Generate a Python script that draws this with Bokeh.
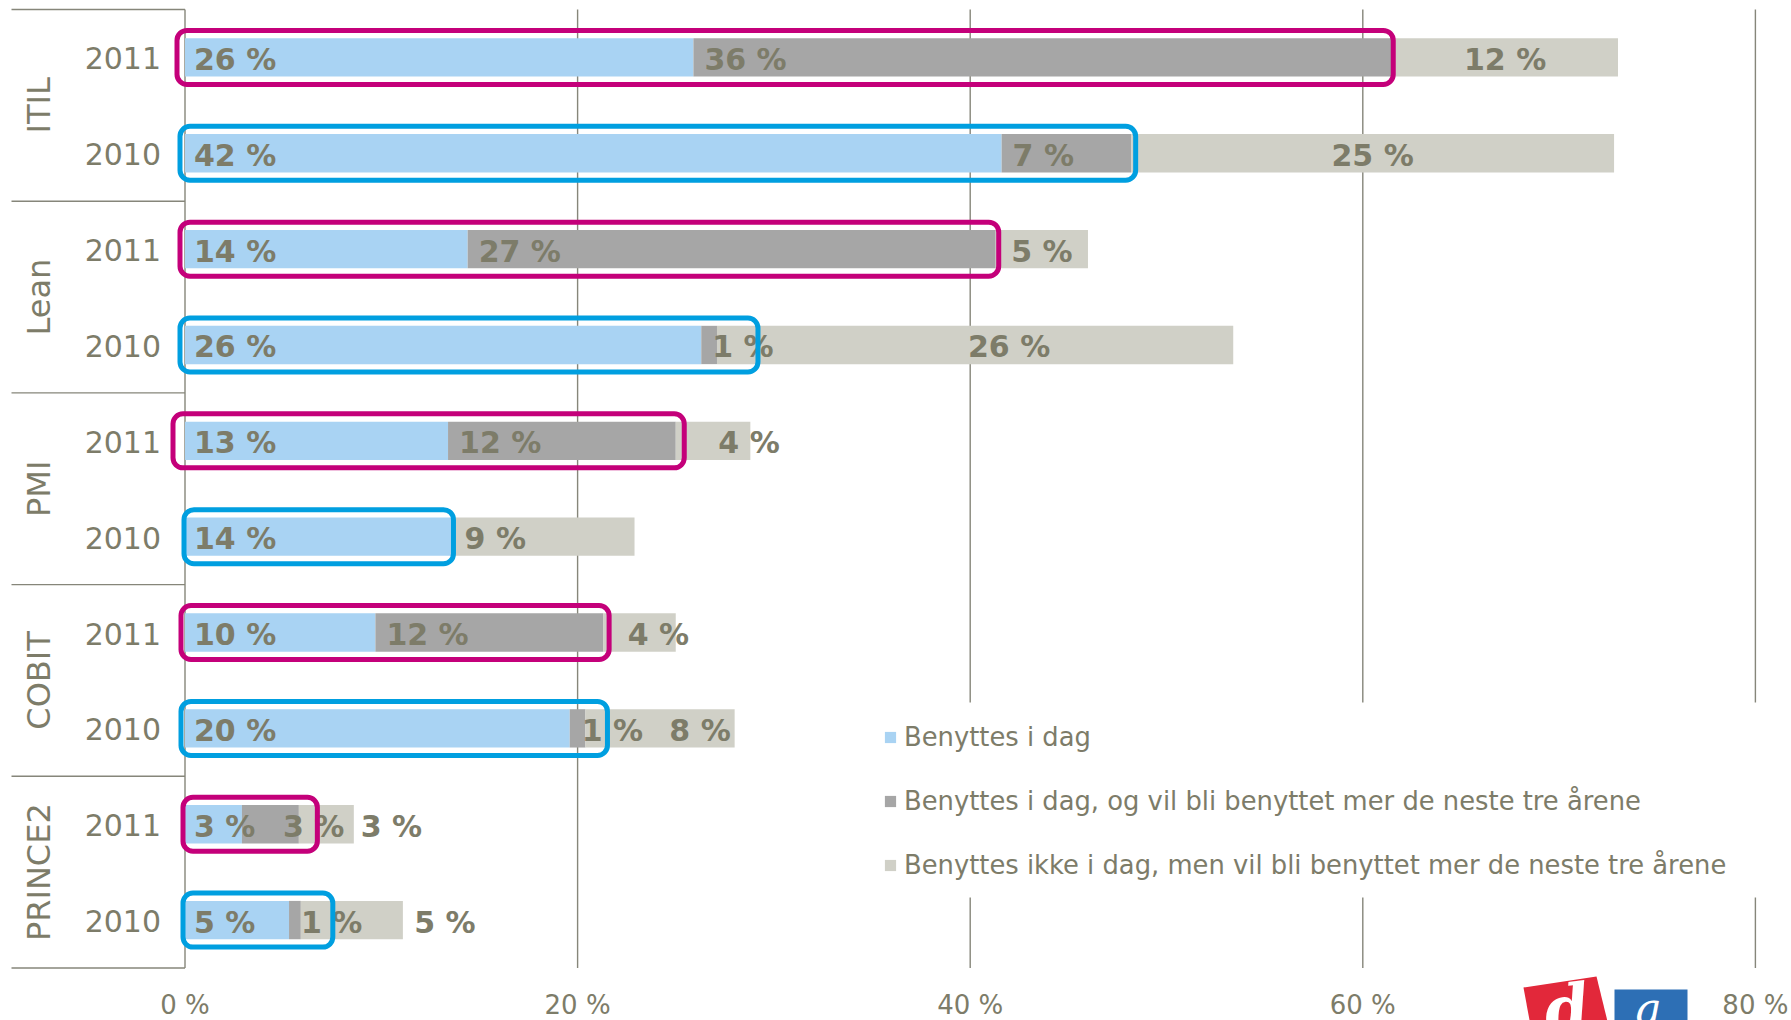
import math
from bokeh.plotting import figure
from bokeh.models import ColumnDataSource, Range1d, BoxAnnotation
from bokeh.core.properties import value
from bokeh.embed import file_html
from bokeh.resources import INLINE

# ---------------- data ----------------
categories = ["ITIL", "Lean", "PMI", "COBIT", "PRINCE2"]
years = ["2011", "2010"]
series_names = [
    "Benyttes i dag",
    "Benyttes i dag, og vil bli benyttet mer de neste tre årene",
    "Benyttes ikke i dag, men vil bli benyttet mer de neste tre årene",
]
# rows: ITIL 2011, ITIL 2010, Lean 2011, Lean 2010, PMI 2011, PMI 2010,
#       COBIT 2011, COBIT 2010, PRINCE2 2011, PRINCE2 2010  (percent)
used_today = [25.9, 41.6, 14.4, 26.3, 13.4, 13.6, 9.7, 19.6, 2.9, 5.3]
used_more = [35.6, 6.6, 26.9, 0.8, 11.6, 0.0, 11.6, 0.8, 2.9, 0.6]
future_use = [11.5, 24.6, 4.7, 26.3, 3.8, 9.3, 3.7, 7.6, 2.8, 5.2]
x_ticks = [0, 20, 40, 60, 80]
x_tick_labels = ["0 %", "20 %", "40 %", "60 %", "80 %"]

# ---------------- layout / style ----------------
W, H = 1791, 1020
PX = 19.63       # px per percent
X0 = 184.5       # canvas x of 0 %
SLOT = 95.85     # px per bar slot
Y0 = 9.0         # canvas y of top of first slot

dark_label_dx = [11, 11, 11, 11, 11, 11, 11, 12, 41, 12]
light_label_dx = [0, 0, 0, 34, 36, -48, 19, 40, 65, 93]
box_left_pad = [8, 5, 5, 5, 12, 1, 4, 4, 2, 2]
box_right_pad = [1, 4.5, 3, 41, 8.5, 1.5, 6, 22, 18.5, 32]

C_BLUE = "#a9d3f3"
C_DARK = "#a6a6a6"
C_LIGHT = "#d0d0c7"
C_2011 = "#c4007a"
C_2010 = "#009fe0"
C_TEXT = "#7d7c69"
C_GRID = "#86867a"
FONT = value("DejaVu Sans")


def px_x(cx):
    return (cx - X0) / PX


def px_y(cy):
    return (cy - Y0) / SLOT


n = len(used_today)
yc = [i + 0.5 for i in range(n)]

p = figure(
    width=W, height=H,
    x_range=Range1d(px_x(0), px_x(W)),
    y_range=Range1d(px_y(H), px_y(0)),
    output_backend="svg", toolbar_location=None,
    x_axis_location=None, y_axis_location=None,
    min_border=0, outline_line_color=None,
)
p.grid.visible = False
p.background_fill_color = "white"
p.border_fill_color = "white"

# gridlines
p.segment(x0=x_ticks, y0=[0] * len(x_ticks), x1=x_ticks, y1=[n] * len(x_ticks),
          line_color=C_GRID, line_width=1.4)
# category separators
sep_y = [2 * g for g in range(len(categories) + 1)]
p.segment(x0=[px_x(11)] * len(sep_y), y0=sep_y, x1=[0] * len(sep_y), y1=sep_y,
          line_color=C_GRID, line_width=1.4)

src = ColumnDataSource(dict(y=yc, today=used_today, more=used_more, future=future_use))
p.hbar_stack(["today", "more", "future"], y="y", height=0.40, source=src,
             fill_color=[C_BLUE, C_DARK, C_LIGHT], line_color=None,
             legend_label=series_names)

# value labels
def fmt(v):
    return f"{int(v + 0.5)} %"

lab_x, lab_y, lab_t, lab_dx, lab_align = [], [], [], [], []
for i in range(n):
    a, b, c = used_today[i], used_more[i], future_use[i]
    if a > 0:
        lab_x.append(0); lab_y.append(yc[i]); lab_t.append(fmt(a)); lab_dx.append(9); lab_align.append("left")
    if b > 0:
        lab_x.append(a); lab_y.append(yc[i]); lab_t.append(fmt(b)); lab_dx.append(dark_label_dx[i]); lab_align.append("left")
    if c > 0:
        lab_x.append(a + b + c / 2); lab_y.append(yc[i]); lab_t.append(fmt(c)); lab_dx.append(light_label_dx[i]); lab_align.append("center")
lsrc = ColumnDataSource(dict(x=lab_x, y=lab_y, t=lab_t, dx=lab_dx, al=lab_align))
p.text(x="x", y="y", text="t", x_offset="dx", y_offset=2, text_align="al", text_baseline="middle",
       source=lsrc, text_font=FONT, text_font_style="bold", text_font_size="30px", text_color=C_TEXT)

# year labels
year_text = [years[i % 2] for i in range(n)]
p.text(x=[0] * n, y=yc, text=year_text, x_offset=-24, y_offset=1, text_align="right", text_baseline="middle",
       text_font=FONT, text_font_size="30px", text_color=C_TEXT)

# category labels (rotated)
cat_y = [2 * g + 1 for g in range(len(categories))]
p.text(x=[0] * len(categories), y=cat_y, text=categories, x_offset=-146.5, angle=math.pi / 2,
       text_align="center", text_baseline="middle", text_font=FONT, text_font_size="32px", text_color=C_TEXT)

# x tick labels
p.text(x=x_ticks, y=[px_y(1004)] * len(x_ticks), text=x_tick_labels, text_align="center",
       text_baseline="middle", text_font=FONT, text_font_size="26px", text_color=C_TEXT)

# white panel behind the legend (breaks the gridlines there)
p.add_layout(BoxAnnotation(left=px_x(868), right=px_x(1785), top=px_y(702), bottom=px_y(897),
                           fill_color="white", fill_alpha=1.0, line_color=None))

# highlight boxes
half = 27 / SLOT
for i in range(n):
    col = C_2011 if i % 2 == 0 else C_2010
    box = BoxAnnotation(left=-box_left_pad[i] / PX,
                        right=used_today[i] + used_more[i] + box_right_pad[i] / PX,
                        top=yc[i] - half, bottom=yc[i] + half,
                        fill_color=None, fill_alpha=0, line_color=col, line_alpha=1.0, line_width=5,
                        border_radius=10)
    p.add_layout(box)

# logo (partly cut off at the bottom)
p.patch(x=[px_x(1523), px_x(1596), px_x(1608), px_x(1530)],
        y=[px_y(987), px_y(976), px_y(1025), px_y(1025)], fill_color="#e2283a", line_color=None)
p.quad(left=px_x(1614), right=px_x(1687), top=px_y(989), bottom=px_y(1025), fill_color="#2d6fb5", line_color=None)
p.text(x=[px_x(1566)], y=[px_y(1008)], text=["d"], text_align="center", text_baseline="middle",
       text_font=value("DejaVu Serif"), text_font_style="bold italic", text_font_size="64px",
       text_color="white", angle=0.12)
p.text(x=[px_x(1648)], y=[px_y(1008)], text=["a"], text_align="center", text_baseline="middle",
       text_font=value("DejaVu Serif"), text_font_style="italic", text_font_size="44px", text_color="white")

# legend
lg = p.legend[0]
lg.location = (883, 140)
lg.margin = 0
lg.padding = 0
lg.spacing = 34
lg.label_height = 30
lg.glyph_height = 14
lg.glyph_width = 14
lg.label_standoff = 7
lg.label_width = 845
lg.label_text_font = "DejaVu Sans"
lg.label_text_font_size = "25.8px"
lg.label_text_color = C_TEXT
lg.border_line_color = None
lg.background_fill_color = "white"
lg.background_fill_alpha = 1.0

open("out.html", "w").write(file_html(p, INLINE))
